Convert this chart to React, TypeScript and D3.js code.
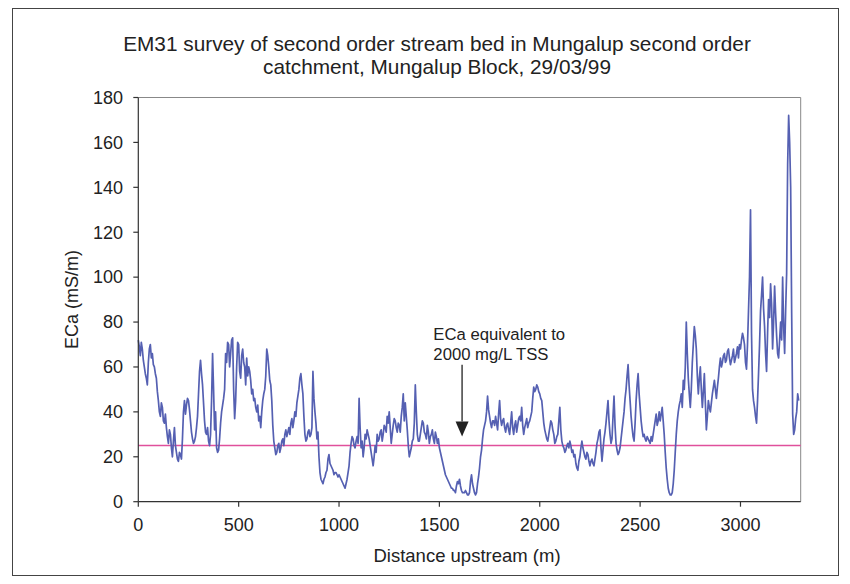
import React from 'react';
import * as d3 from 'd3';

// EM31 apparent conductivity readings (mS/m), one every STATION_SPACING metres upstream
const STATION_SPACING = 5;
const readings: number[] = [
  // 0 - 95 m
  72, 69, 65, 71, 68, 63, 60, 57, 55, 52, 62, 68, 70, 64, 66, 61, 60, 57, 55, 49,
  // 100 - 195 m
  45, 40, 38, 44, 42, 36, 35, 39, 33, 29, 26, 32, 30, 24, 20, 27, 33, 25, 22, 19,
  // 200 - 295 m
  18, 22, 21, 19, 28, 40, 45, 39, 43, 46, 45, 41, 36, 31, 28, 26, 27, 29, 33, 38,
  // 300 - 395 m
  48, 58, 63, 57, 52, 44, 36, 31, 30, 33, 27, 25, 30, 45, 66, 50, 32, 40, 24, 22,
  // 400 - 495 m
  23, 28, 35, 40, 43, 46, 50, 66, 62, 71, 70, 60, 66, 72, 73, 50, 37, 45, 60, 71,
  // 500 - 595 m
  70, 58, 55, 65, 68, 62, 60, 52, 64, 56, 60, 58, 54, 48, 50, 45, 46, 42, 40, 43,
  // 600 - 695 m
  36, 38, 33, 40, 45, 48, 50, 56, 68, 65, 60, 54, 52, 45, 34, 27, 24, 21, 22, 25,
  // 700 - 795 m
  26, 22, 24, 27, 28, 25, 30, 32, 29, 31, 33, 30, 35, 37, 33, 36, 40, 38, 44, 47,
  // 800 - 895 m
  50, 55, 57, 52, 48, 38, 30, 27, 28, 31, 32, 29, 30, 33, 58, 46, 40, 35, 28, 31,
  // 900 - 995 m
  20, 13, 10, 9, 8, 10, 11, 13, 14, 19, 21, 17, 16, 15, 14, 12, 13, 13, 12, 11,
  // 1000 - 1095 m
  12, 11, 10, 9, 8, 7, 6, 8, 10, 13, 16, 22, 26, 29, 28, 25, 24, 27, 29, 26,
  // 1100 - 1195 m
  46, 33, 24, 27, 20, 24, 30, 28, 32, 30, 28, 25, 22, 19, 16, 20, 25, 22, 30, 27,
  // 1200 - 1295 m
  28, 31, 32, 27, 30, 34, 33, 31, 38, 35, 40, 33, 26, 30, 34, 37, 36, 33, 31, 35,
  // 1300 - 1395 m
  34, 31, 38, 42, 48, 36, 44, 38, 32, 25, 20, 22, 24, 27, 28, 35, 52, 40, 30, 27,
  // 1400 - 1495 m
  27, 30, 33, 36, 35, 31, 30, 28, 34, 31, 26, 29, 30, 32, 28, 26, 31, 29, 26, 28,
  // 1500 - 1595 m
  24, 22, 20, 18, 16, 14, 12, 11, 10, 9, 8, 7, 6, 6, 5, 5, 4, 7, 9, 8,
  // 1600 - 1695 m
  10, 7, 5, 4, 4, 4, 5, 4, 3, 3, 4, 9, 12, 8, 6, 4, 3, 4, 8, 11,
  // 1700 - 1795 m
  15, 20, 23, 28, 32, 34, 36, 40, 47, 41, 38, 35, 33, 36, 36, 34, 38, 35, 32, 39,
  // 1800 - 1895 m
  45, 37, 34, 36, 37, 33, 31, 34, 35, 32, 30, 35, 40, 33, 30, 34, 36, 31, 34, 37,
  // 1900 - 1995 m
  38, 36, 42, 34, 30, 33, 35, 37, 33, 35, 36, 38, 40, 46, 51, 49, 50, 52, 51, 49,
  // 2000 - 2095 m
  48, 46, 45, 40, 35, 32, 30, 28, 27, 30, 33, 36, 35, 32, 30, 26, 27, 29, 30, 36,
  // 2100 - 2195 m
  42, 32, 27, 25, 24, 22, 23, 25, 26, 24, 27, 25, 22, 23, 20, 21, 17, 15, 14, 18,
  // 2200 - 2295 m
  20, 24, 27, 24, 22, 20, 19, 22, 21, 18, 16, 18, 19, 17, 16, 19, 22, 26, 28, 31,
  // 2300 - 2395 m
  32, 24, 18, 23, 28, 31, 35, 40, 45, 36, 30, 26, 28, 38, 47, 34, 26, 23, 21, 22,
  // 2400 - 2495 m
  24, 28, 32, 36, 40, 46, 50, 56, 61, 52, 45, 38, 33, 29, 27, 35, 45, 52, 57, 48,
  // 2500 - 2595 m
  42, 36, 32, 29, 30, 28, 27, 29, 28, 27, 26, 29, 27, 30, 33, 36, 39, 34, 36, 40,
  // 2600 - 2695 m
  36, 39, 42, 36, 30, 22, 15, 10, 6, 4, 3, 3, 4, 8, 14, 22, 30, 36, 40, 43,
  // 2700 - 2795 m
  45, 48, 42, 54, 50, 60, 80, 66, 55, 48, 42, 50, 62, 70, 78, 74, 68, 56, 48, 55,
  // 2800 - 2895 m
  60, 50, 42, 49, 57, 44, 32, 38, 45, 42, 40, 44, 48, 51, 54, 50, 46, 51, 55, 60,
  // 2900 - 2995 m
  64, 60, 62, 65, 66, 62, 63, 67, 68, 64, 61, 63, 65, 68, 62, 64, 66, 69, 64, 70,
  // 3000 - 3095 m
  68, 72, 75, 73, 70, 62, 59, 70, 85, 100, 130, 75, 50, 45, 42, 38, 35, 45, 57, 70,
  // 3100 - 3195 m
  85, 92, 100, 86, 78, 66, 58, 75, 90, 82, 97, 88, 68, 80, 96, 84, 74, 66, 64, 72,
  // 3200 - 3290 m
  80, 72, 100, 78, 66, 85, 102, 150, 172, 160, 140, 84, 39, 30, 32, 37, 40, 48, 45,
];

const xTicks = [0, 500, 1000, 1500, 2000, 2500, 3000];
const yTicks = [0, 20, 40, 60, 80, 100, 120, 140, 160, 180];
const X_MAX = 3300;
const Y_MAX = 180;

// ECa equivalent to 2000 mg/L total soluble salts
const TSS_THRESHOLD = 25;

const titleLines = [
  'EM31 survey of second order stream bed in Mungalup second order',
  'catchment, Mungalup Block, 29/03/99',
];
const xAxisTitle = 'Distance upstream (m)';
const yAxisTitle = 'ECa (mS/m)';
const annotationLines = ['ECa equivalent to', '2000 mg/L TSS'];
const annotationDistance = 1613;
const arrowFrom = 61;
const arrowTo = 29;
const annotationTextStart = 1470;
const annotationBaselines = [72, 63];

const W = 850;
const H = 584;
const PLOT = { left: 138.3, right: 800.7, top: 97.5, bottom: 501.7 };
const FONT = '"Liberation Sans", Arial, Helvetica, sans-serif';
const INK = '#222';

export default function App() {
  const x = d3.scaleLinear().domain([0, X_MAX]).range([PLOT.left, PLOT.right]);
  const y = d3.scaleLinear().domain([0, Y_MAX]).range([PLOT.bottom, PLOT.top]);

  const points: [number, number][] = readings.map((v, i) => [i * STATION_SPACING, v]);
  const line = d3
    .line<[number, number]>()
    .x((d) => x(d[0]))
    .y((d) => y(d[1]));

  const ax = x(annotationDistance);
  const headTop = y(arrowTo) - 15;

  return (
    <svg
      width={W}
      height={H}
      viewBox={`0 0 ${W} ${H}`}
      style={{ position: 'absolute', left: 0, top: 0, background: '#fff' }}
      fontFamily={FONT}
    >
      <rect x={0} y={0} width={W} height={H} fill="#fff" />
      {/* chart frame */}
      <rect x={12.5} y={8.5} width={826} height={567} fill="none" stroke="#444" strokeWidth={1} />

      {/* title */}
      {titleLines.map((t, i) => (
        <text key={i} x={437} y={51 + i * 23} textAnchor="middle" fontSize={20.8} fill={INK}>
          {t}
        </text>
      ))}

      {/* plot area border */}
      <line x1={PLOT.left} x2={PLOT.right} y1={PLOT.top} y2={PLOT.top} stroke="#888" strokeWidth={1} />
      <line x1={PLOT.right} x2={PLOT.right} y1={PLOT.top} y2={PLOT.bottom} stroke="#888" strokeWidth={1} />

      {/* threshold line */}
      <line
        x1={x(0)}
        x2={x(X_MAX)}
        y1={y(TSS_THRESHOLD)}
        y2={y(TSS_THRESHOLD)}
        stroke="#e0509c"
        strokeWidth={1.5}
      />

      {/* survey trace */}
      <path d={line(points) ?? ''} fill="none" stroke="#5560b2" strokeWidth={1.7} strokeLinejoin="round" />

      {/* y axis */}
      <line x1={PLOT.left} x2={PLOT.left} y1={PLOT.top} y2={PLOT.bottom} stroke="#333" strokeWidth={1.2} />
      {yTicks.map((t) => (
        <g key={t}>
          <line x1={PLOT.left - 5} x2={PLOT.left} y1={y(t)} y2={y(t)} stroke="#333" strokeWidth={1.2} />
          <text x={123} y={y(t)} dy="0.35em" textAnchor="end" fontSize={18} fill={INK}>
            {t}
          </text>
        </g>
      ))}

      {/* x axis */}
      <line x1={PLOT.left} x2={PLOT.right} y1={PLOT.bottom} y2={PLOT.bottom} stroke="#333" strokeWidth={1.2} />
      {xTicks.map((t) => (
        <g key={t}>
          <line x1={x(t)} x2={x(t)} y1={PLOT.bottom} y2={PLOT.bottom + 5} stroke="#333" strokeWidth={1.2} />
          <text x={x(t)} y={531} textAnchor="middle" fontSize={18} fill={INK}>
            {t}
          </text>
        </g>
      ))}

      {/* axis titles */}
      <text x={467} y={562} textAnchor="middle" fontSize={18.5} fill={INK}>
        {xAxisTitle}
      </text>
      <text
        transform={`translate(72, ${(PLOT.top + PLOT.bottom) / 2}) rotate(-90)`}
        dy="0.35em"
        textAnchor="middle"
        fontSize={18}
        fill={INK}
      >
        {yAxisTitle}
      </text>

      {/* annotation */}
      {annotationLines.map((t, i) => (
        <text key={i} x={x(annotationTextStart)} y={y(annotationBaselines[i])} fontSize={16.7} fill={INK}>
          {t}
        </text>
      ))}
      <line x1={ax} x2={ax} y1={y(arrowFrom)} y2={headTop} stroke={INK} strokeWidth={1.3} />
      <polygon
        points={`${ax - 6.5},${headTop} ${ax + 6.5},${headTop} ${ax},${y(arrowTo)}`}
        fill={INK}
      />
    </svg>
  );
}
